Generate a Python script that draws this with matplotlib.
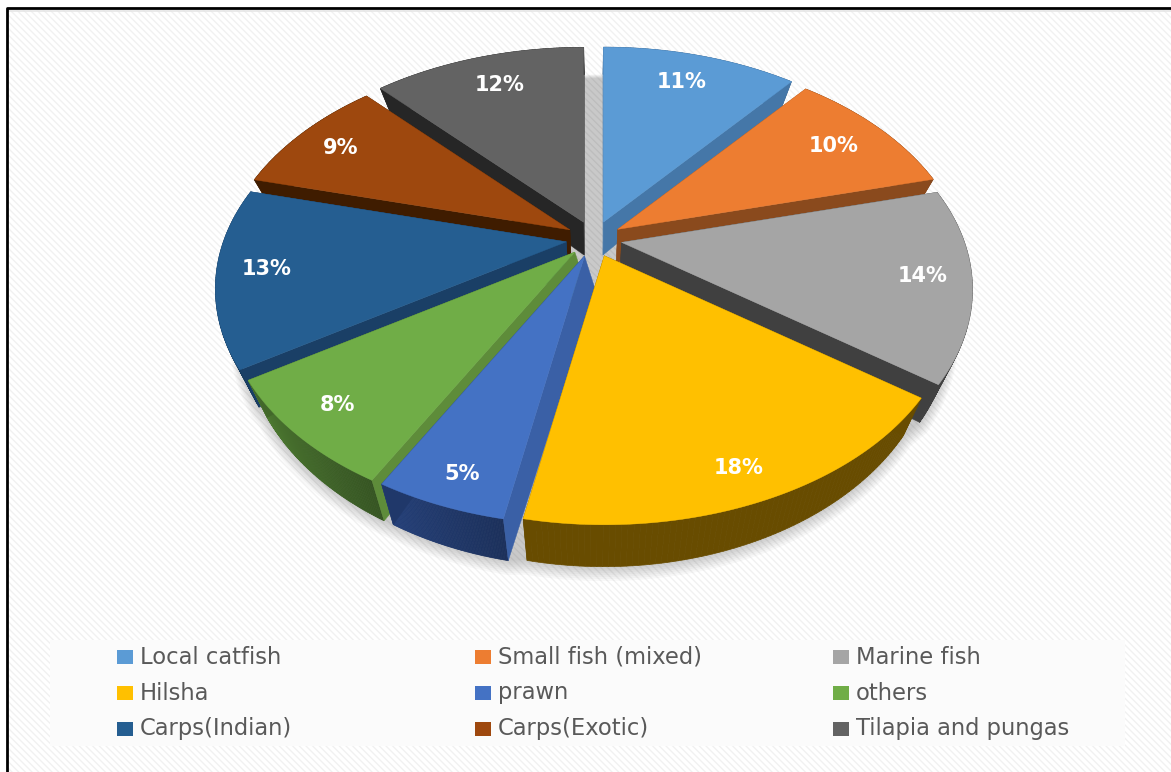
import numpy as np
import matplotlib
matplotlib.use('Agg')
import matplotlib.pyplot as plt
from matplotlib.colors import to_rgb
from matplotlib.patches import Polygon, Rectangle

# values
names = ['Local catfish', 'Small fish (mixed)', 'Marine fish', 'Hilsha', 'prawn', 'others',
         'Carps(Indian)', 'Carps(Exotic)', 'Tilapia and pungas']
values = [11, 10, 14, 18, 5, 8, 13, 9, 12]

top_colors = ['#5B9BD5', '#ED7D31', '#A5A5A5', '#FFC000', '#4472C4', '#70AD47',
              '#255E91', '#9E480E', '#636363']
side_colors = ['#4577A8', '#8A4A1D', '#404040', '#684C00', '#3A60A6', '#5E8C3A',
               '#1A3F66', '#3F1C00', '#262626']
rim_colors = ['#37618A', '#7A3E14', '#404040', '#684C00', '#20386A', '#42682A',
              '#173A5C', '#3F1C00', '#262626']
rim_fade = [0, 0, 0, 0, 0.14, 0.18, 0, 0, 0]

# small corrections of the label spots, pixels
label_dx = [-6, -9, 5, 5, -3, -8, -3, 1, 8]
label_dy = [5, 5, -1, 11, 14, 2, -2, 2, 6]

# pie geometry, in picture pixels
cx, cy = 594, 239
rx, ry = 343, 212
persp = 0.212
explode_x, explode_y = 28, 18
depth = 33
shrink = 0.055


def project(mid, ang, r):
    # ang is clockwise from 12 o'clock, v points to the viewer
    u = r * np.sin(ang)
    v = -r * np.cos(ang)
    s = 1 / (1 - persp * v)
    x = cx + explode_x * np.sin(mid) + rx * u * s
    y = cy - explode_y * np.cos(mid) + ry * v * s
    return x, y, s


def lower(x, y, s):
    return cx + (x - cx) * (1 - shrink), y + depth * s


fig = plt.figure(figsize=(11.71, 7.72), dpi=100)
ax = fig.add_axes([0, 0, 1, 1])
ax.set_xlim(0, 1171)
ax.set_ylim(772, 0)
ax.axis('off')

# striped background and frame (only top and left are drawn in the picture)
plt.rcParams['hatch.linewidth'] = 1.0
ax.add_patch(Rectangle((0, 0), 1171, 772, facecolor='white', edgecolor='none', zorder=0))
ax.add_patch(Rectangle((8, 9), 1170, 770, facecolor='white', edgecolor='#F1F1F1',
                       hatch='\\' * 5, linewidth=0, zorder=0.5))
ax.plot([8, 1171], [10.5, 10.5], color='#E6E6E6', lw=1.2, zorder=0.9)
ax.plot([7, 7, 1171], [772, 8, 8], color='black', lw=2, zorder=1)

fractions = np.array(values) / np.sum(values)
edges = np.radians(np.concatenate([[0], np.cumsum(fractions) * 360]))
mids = (edges[:-1] + edges[1:]) / 2

# shadow first: one outline around all slices, so the gaps show it too
for k in range(8):
    outline = []
    for i in range(len(values)):
        ang = np.linspace(edges[i], edges[i + 1], 40)
        x, y, s = project(mids[i], ang, 1 + 0.003 * k)
        xb, yb = lower(x, y, s)
        outline.append(np.column_stack([xb, yb + k]))
    ax.add_patch(Polygon(np.vstack(outline), facecolor='black', edgecolor='none', alpha=0.028, zorder=2))

draw_order = [0, 8, 7, 1, 6, 2, 5, 4, 3]
z = 3
for i in draw_order:
    ang = np.linspace(edges[i], edges[i + 1], 80)
    xa, ya, sa = project(mids[i], mids[i], 0)
    xa2, ya2 = lower(xa, ya, sa)
    front = np.cos(mids[i]) < -0.5
    if front:
        xa2 += 10
    x, y, s = project(mids[i], ang, 1)
    xb, yb = lower(x, y, s)
    # outer wall, cut in strips so that it can fade
    base = np.array(to_rgb(rim_colors[i]))
    for j in range(len(ang) - 1):
        f = 1 + rim_fade[i] * (2 * j / (len(ang) - 2) - 1)
        col = np.clip(base * f, 0, 1)
        strip = [[x[j], y[j]], [x[j + 1], y[j + 1]], [xb[j + 1], yb[j + 1]], [xb[j], yb[j]]]
        ax.add_patch(Polygon(strip, facecolor=col, edgecolor=col, lw=0.5, zorder=z))
    # the two cut faces
    for j in [0, -1]:
        if front and j == -1:
            # left cut of the front slices is hidden except at the rim
            face = [[xa, ya], [x[j], y[j]], [xb[j], yb[j]]]
            col = rim_colors[i]
        else:
            face = [[xa, ya], [x[j], y[j]], [xb[j], yb[j]], [xa2, ya2]]
            col = side_colors[i]
        ax.add_patch(Polygon(face, facecolor=col, edgecolor=col, lw=0.3, zorder=z + 0.1))
    # top surface
    top = np.vstack([[xa, ya], np.column_stack([x, y])])
    ax.add_patch(Polygon(top, facecolor=top_colors[i], edgecolor=top_colors[i], lw=0.3, zorder=z + 0.2))
    z += 1

# data labels
for i in range(len(values)):
    lx, ly, _ = project(mids[i], mids[i], 0.85)
    ax.text(lx + label_dx[i], ly + label_dy[i], '%d%%' % values[i], color='white', fontsize=15,
            fontweight='bold', family='DejaVu Sans', ha='center', va='center', zorder=30)

# legend band
ax.add_patch(Rectangle((50, 640), 1075, 106, facecolor='#FBFBFB', edgecolor='none', zorder=1.5))
col_x = [117, 475, 833]
row_y = [657, 693, 729]
for i in range(len(names)):
    px = col_x[i % 3]
    py = row_y[i // 3]
    ax.add_patch(Rectangle((px, py - 7), 16, 14, facecolor=top_colors[i], edgecolor='none', zorder=2))
    ax.text(px + 23, py, names[i], color='#595959', fontsize=16.3, family='DejaVu Sans',
            ha='left', va='center', zorder=2)

fig.savefig('out.png', dpi=100)
